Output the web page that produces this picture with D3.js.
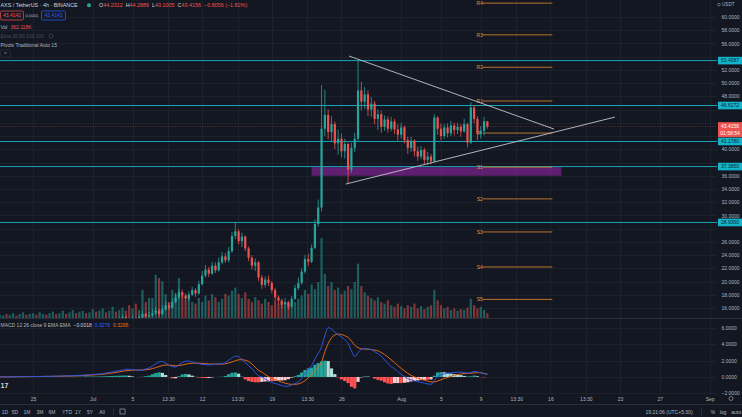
<!DOCTYPE html>
<html lang="en">
<head>
<meta charset="UTF-8">
<title>AXS / TetherUS 4h</title>
<script src="https://d3js.org/d3.v7.min.js"></script>
<style>
  html, body { margin: 0; padding: 0; background: #131722; }
  svg { display: block; font-family: "Liberation Sans", Arial, sans-serif; }
  .axis text { fill: #b2b5be; font-size: 5px; }
</style>
</head>
<body>
<div id="chart"></div>
<script>
// ---- data (days counted from Jun 20, one candle every 8 hours) ----
const firstDay = 5 / 3;
const stepDay = 1 / 3;
const firstOpen = 5.4;

const closes = [
  5.6,5.8,5.7,5.9,6.2,6.0,6.4,6.8,6.6,7.1,7.5,7.3,7.9,8.4,8.1,8.6,9.2,8.9,9.5,10.1,
  9.8,10.4,11.2,10.8,11.5,12.3,11.9,12.6,13.2,12.8,13.3,13.9,13.4,13.8,14.2,13.9,14.3,14.6,14.2,13.9,
  14.4,14.1,14.6,15.1,14.7,14.9,
  15.2,15.6,15.1,15.8,16.4,16.0,16.9,17.6,18.4,17.9,
  17.4,18.0,18.7,18.2,19.6,20.9,21.8,21.2,22.4,21.7,
  22.9,23.8,23.2,24.6,26.9,27.6,26.1,26.8,25.0,23.6,
  22.4,22.9,20.6,19.5,20.3,19.8,18.7,17.6,17.1,16.5,
  16.9,16.2,17.4,19.0,19.8,21.5,23.4,23.0,25.1,28.7,
  31.2,43.1,45.2,42.6,43.8,40.9,41.6,39.7,40.8,36.9,
  40.2,41.6,48.9,47.2,48.3,46.0,46.9,44.6,45.3,43.4,
  44.5,43.1,44.2,43.0,42.2,43.3,41.4,40.2,41.3,39.7,
  38.9,39.9,38.4,38.9,38.2,44.8,43.1,42.0,43.3,42.4,
  43.6,42.9,43.4,42.7,43.8,41.0,46.3,44.6,42.3,42.8,
  44.23,43.4156
];
const highs = [
  6.0,6.1,6.0,6.2,6.5,6.4,6.7,7.1,7.0,7.4,7.8,7.7,8.2,8.8,8.6,9.0,9.6,9.4,9.9,10.5,
  10.3,10.8,11.6,11.4,11.9,12.7,12.5,13.0,13.6,13.4,13.7,14.3,14.1,14.2,14.6,14.4,14.7,15.0,14.8,14.5,
  14.8,14.6,15.0,15.6,15.3,15.4,
  15.8,16.2,15.9,16.4,17.0,16.8,17.4,18.3,18.9,18.8,
  18.2,18.5,19.2,19.0,20.1,21.6,22.5,22.2,23.0,22.9,
  23.6,24.5,24.3,25.2,27.5,29.0,27.9,27.4,27.0,25.3,
  24.0,23.5,23.1,21.0,20.8,20.9,20.1,19.0,17.9,17.4,
  17.5,17.1,17.8,19.5,20.6,22.0,24.0,24.2,25.6,29.4,
  32.4,49.7,49.0,46.0,45.0,44.2,43.0,42.4,41.6,41.0,
  41.0,42.5,53.5,50.2,49.4,48.9,47.9,47.3,46.0,45.8,
  45.1,45.0,44.9,44.6,43.8,44.0,43.6,41.9,41.9,41.5,
  40.4,40.5,40.2,39.6,39.3,45.3,45.0,43.9,43.8,43.9,
  44.3,44.0,44.0,43.8,44.6,44.0,47.1,46.7,45.0,43.5,
  44.9,44.2889
];
const lows = [
  5.2,5.4,5.4,5.5,5.7,5.8,5.8,6.2,6.3,6.4,6.9,7.0,7.1,7.7,7.8,7.9,8.4,8.6,8.7,9.3,
  9.5,9.6,10.2,10.5,10.6,11.3,11.5,11.7,12.4,12.5,12.6,13.1,13.1,13.2,13.6,13.6,13.7,14.1,13.9,13.5,
  13.7,13.8,13.9,14.4,14.4,14.5,
  14.6,15.0,14.7,14.9,15.6,15.7,15.9,16.7,17.3,17.4,
  17.0,17.1,17.8,17.7,18.0,19.4,20.6,20.7,21.0,21.3,
  21.5,22.6,22.8,22.9,24.3,26.4,25.6,25.2,24.6,23.1,
  21.8,21.6,20.1,18.9,19.1,19.3,18.2,17.2,16.5,15.9,
  16.1,15.7,16.0,17.2,18.7,19.5,21.2,22.3,22.8,24.9,
  28.3,30.6,42.0,41.5,41.2,40.0,39.2,38.8,38.6,34.9,
  36.4,39.6,41.3,45.9,46.1,45.0,44.9,43.8,42.9,42.5,
  42.8,42.5,42.7,42.3,41.3,41.6,40.9,39.3,39.6,38.9,
  38.2,38.5,37.7,37.6,37.7,38.0,42.2,41.4,41.6,41.8,
  42.0,42.1,42.3,41.9,42.5,40.3,40.8,43.9,41.4,41.6,
  42.1,43.1005
];
const volumes = [
  4,3,5,4,6,3,5,7,4,5,6,4,7,5,4,6,8,5,6,9,5,7,10,6,8,9,6,7,11,8,
  9,12,7,9,14,8,10,13,9,16,12,18,10,35,20,25,
  25,54,50,46,30,20,35,30,50,28,
  22,30,20,18,25,20,28,22,30,26,
  20,24,30,28,34,38,30,25,32,24,
  20,26,22,18,24,20,16,22,18,20,
  15,18,14,20,24,28,35,30,42,36,
  45,100,55,40,45,35,38,30,34,40,
  36,45,68,40,32,28,25,22,26,20,
  18,22,16,14,18,15,12,16,14,18,
  12,15,11,14,16,35,22,16,12,14,
  10,12,9,11,10,13,24,16,12,14,
  10,6
];
const macdLine = [
  0.00,0.01,0.01,0.02,0.02,0.03,0.03,0.04,0.04,0.05,0.05,0.06,0.06,0.07,0.08,0.08,0.09,0.10,
  0.11,0.12,0.13,0.15,0.16,0.18,0.20,0.22,0.24,0.27,0.30,0.33,
  0.36,0.42,0.48,0.55,0.62,0.70,0.78,0.86,0.94,
  0.95,0.90,0.84,0.82,0.88,0.98,
  1.10,1.35,1.62,1.85,1.90,1.70,1.45,1.25,1.22,1.50,1.78,1.93,
  1.95,1.85,1.72,1.62,1.55,1.50,1.48,1.52,1.58,1.60,1.62,
  1.75,2.05,2.35,2.55,2.50,2.15,1.75,
  1.40,1.00,0.55,0.15,0.00,-0.25,-0.48,-0.68,
  -0.78,-0.92,-1.05,-1.15,-1.12,-0.98,-0.80,
  -0.60,-0.15,0.40,0.95,1.40,2.20,2.90,3.70,5.10,
  6.05,5.85,5.50,5.20,4.90,4.55,4.10,3.20,
  2.50,3.00,3.40,3.50,3.45,3.35,3.10,2.85,
  2.55,2.10,1.65,1.25,1.00,0.65,0.30,0.05,-0.20,
  -0.35,-0.48,-0.58,-0.66,-0.75,-0.85,-0.90,-0.45,
  0.05,0.25,0.38,0.45,0.50,0.55,0.58,
  0.60,0.55,0.48,0.55,0.68,0.62,0.50,0.40,0.3278
];
const signalLine = [
  0.00,0.00,0.01,0.01,0.02,0.02,0.03,0.03,0.04,0.04,0.05,0.05,0.06,0.06,0.07,0.07,0.08,0.09,
  0.09,0.10,0.11,0.12,0.13,0.15,0.16,0.18,0.20,0.22,0.24,0.27,
  0.30,0.34,0.38,0.43,0.49,0.55,0.62,0.69,0.76,
  0.80,0.83,0.84,0.84,0.85,0.88,
  0.93,1.02,1.14,1.28,1.40,1.46,1.46,1.42,1.38,1.40,1.47,1.56,
  1.64,1.69,1.70,1.69,1.66,1.63,1.60,1.58,1.58,1.58,1.59,
  1.62,1.71,1.84,1.99,2.10,2.12,2.05,
  1.90,1.60,1.20,0.80,0.60,0.30,0.05,-0.15,
  -0.32,-0.48,-0.62,-0.75,-0.85,-0.90,-0.90,
  -0.85,-0.70,-0.45,-0.10,0.25,0.70,1.20,1.80,3.10,
  4.10,4.80,5.15,5.25,5.20,5.05,4.85,4.40,
  3.90,3.60,3.45,3.42,3.40,3.35,3.30,3.20,
  3.00,2.75,2.45,2.10,1.75,1.40,1.05,0.75,0.45,
  0.20,0.00,-0.15,-0.28,-0.40,-0.50,-0.60,-0.60,
  -0.50,-0.35,-0.20,-0.05,0.08,0.20,0.30,
  0.37,0.42,0.44,0.46,0.50,0.53,0.52,0.45,0.3295
];

const timeTickDays = [5, 11, 15, 18.5625, 22, 25.5625, 29, 32.5625, 36, 42, 46, 50, 53.5625, 57, 60.5625, 64, 68, 73];
const timeTickLabels = ["25", "Jul", "5", "13:30", "12", "13:30", "19", "13:30", "26", "Aug", "5", "9", "13:30", "16", "13:30", "23", "27", "Sep"];
const priceTicks = d3.range(16, 61, 2);
const macdTicks = [6, 4, 2, 0, -2];

const levelPrices = [53.4087, 46.6172, 41.1780, 37.3850, 28.9360];
const pivotNames = ["R4", "R3", "R2", "R1", "P", "S1", "S2", "S3", "S4", "S5"];
const pivotPrices = [62.1, 57.3, 52.4, 47.3, 42.45, 37.3, 32.5, 27.5, 22.2, 17.3];
const pivotFrom = 50, pivotTo = 57;
const zone = { from: 33.0, to: 58.1, top: 37.3, bottom: 36.0 };
const triangleUpper = [[36.76, 54.1], [57.36, 43.06]];
const triangleLower = [[36.43, 34.74], [63.49, 44.87]];
const lastPrice = 43.4156;

// ---- layout ----
const W = 742, H = 417, plotR = 717;
const mainBottom = 318, macdTop = 319, macdBottom = 395;

const x = d3.scaleLinear().domain([5, 73]).range([33, 709.6]);
const y = d3.scaleLinear().domain([60, 16]).range([17, 308]);
const yVol = d3.scaleLinear().domain([0, 100]).range([mainBottom, 238]);
const yMacd = d3.scaleLinear().domain([6, -2]).range([328, 393.3]);

const up = "#26a69a", down = "#ef5350";

const candles = closes.map((c, i) => ({
  day: firstDay + i * stepDay,
  open: i === 0 ? firstOpen : closes[i - 1],
  close: c, high: highs[i], low: lows[i], vol: volumes[i]
}));

const svg = d3.select("#chart").append("svg").attr("width", W).attr("height", H);
svg.append("rect").attr("width", W).attr("height", H).attr("fill", "#131722");

const defs = svg.append("defs");
defs.append("clipPath").attr("id", "mainClip").append("rect")
  .attr("x", 0).attr("y", 0).attr("width", plotR).attr("height", mainBottom);
defs.append("clipPath").attr("id", "macdClip").append("rect")
  .attr("x", 0).attr("y", macdTop).attr("width", plotR).attr("height", macdBottom - macdTop);

// grid
const grid = svg.append("g").attr("stroke", "#1d212c").attr("stroke-width", 1).attr("shape-rendering", "crispEdges");
grid.selectAll(".vg").data(timeTickDays).enter().append("line")
  .attr("x1", d => Math.round(x(d)) + 0.5).attr("x2", d => Math.round(x(d)) + 0.5)
  .attr("y1", 0).attr("y2", macdBottom);
grid.selectAll(".hg").data(priceTicks).enter().append("line")
  .attr("x1", 0).attr("x2", plotR).attr("y1", d => Math.round(y(d)) + 0.5).attr("y2", d => Math.round(y(d)) + 0.5);
grid.selectAll(".mg").data(macdTicks).enter().append("line")
  .attr("x1", 0).attr("x2", plotR).attr("y1", d => Math.round(yMacd(d)) + 0.5).attr("y2", d => Math.round(yMacd(d)) + 0.5);

// separators
const sep = svg.append("g").attr("stroke", "#2a2e39").attr("shape-rendering", "crispEdges");
sep.append("line").attr("x1", 0).attr("x2", W).attr("y1", mainBottom + 0.5).attr("y2", mainBottom + 0.5);
sep.append("line").attr("x1", 0).attr("x2", W).attr("y1", 404.5).attr("y2", 404.5);

// ---- main pane ----
const main = svg.append("g").attr("clip-path", "url(#mainClip)");

// volume
main.append("g").selectAll("rect").data(candles).enter().append("rect")
  .attr("x", d => x(d.day) - 1.1).attr("width", 2.2)
  .attr("y", d => yVol(d.vol)).attr("height", d => mainBottom - yVol(d.vol))
  .attr("fill", d => d.close >= d.open ? up : down).attr("opacity", 0.5);

// purple zone
main.append("rect")
  .attr("x", x(zone.from)).attr("width", x(zone.to) - x(zone.from))
  .attr("y", y(zone.top)).attr("height", y(zone.bottom) - y(zone.top))
  .attr("fill", "#9c27b0").attr("opacity", 0.55);

// support / resistance levels
main.selectAll(".lvl").data(levelPrices).enter().append("line")
  .attr("x1", 0).attr("x2", plotR)
  .attr("y1", d => y(d)).attr("y2", d => y(d))
  .attr("stroke", "#1aa3b8").attr("stroke-width", 1);

// current price line
main.append("line").attr("x1", 0).attr("x2", plotR)
  .attr("y1", y(lastPrice)).attr("y2", y(lastPrice))
  .attr("stroke", "#ef5350").attr("stroke-width", 0.6).attr("stroke-dasharray", "1,1.5").attr("opacity", 0.7);

// pivots
const piv = main.append("g");
piv.selectAll("line").data(pivotPrices).enter().append("line")
  .attr("x1", x(pivotFrom) + 2).attr("x2", x(pivotTo) + 2)
  .attr("y1", d => y(d)).attr("y2", d => y(d))
  .attr("stroke", "#d7852f").attr("stroke-width", 1).attr("opacity", 0.85);
piv.selectAll("text").data(pivotPrices).enter().append("text")
  .attr("x", x(pivotFrom) - 1).attr("y", d => y(d) + 1.8)
  .attr("text-anchor", "middle").attr("font-size", 5).attr("fill", "#e8923a")
  .text((d, i) => pivotNames[i]);

// candles
const cg = main.append("g");
cg.selectAll("line").data(candles).enter().append("line")
  .attr("x1", d => x(d.day)).attr("x2", d => x(d.day))
  .attr("y1", d => y(d.high)).attr("y2", d => y(d.low))
  .attr("stroke", d => d.close >= d.open ? up : down).attr("stroke-width", 0.8);
cg.selectAll("rect").data(candles).enter().append("rect")
  .attr("x", d => x(d.day) - 1.1).attr("width", 2.2)
  .attr("y", d => y(Math.max(d.open, d.close)))
  .attr("height", d => Math.max(0.8, Math.abs(y(d.open) - y(d.close))))
  .attr("fill", d => d.close >= d.open ? up : down);

// triangle
const triLine = d3.line().x(d => x(d[0])).y(d => y(d[1]));
[triangleUpper, triangleLower].forEach(t => {
  main.append("path").attr("d", triLine(t)).attr("fill", "none")
    .attr("stroke", "#c3c5cc").attr("stroke-width", 0.9);
});

// ---- MACD pane ----
const hist = macdLine.map((m, i) => m - signalLine[i]);
const mp = svg.append("g").attr("clip-path", "url(#macdClip)");
mp.append("g").selectAll("rect").data(hist).enter().append("rect")
  .attr("x", (d, i) => x(candles[i].day) - 1.6).attr("width", 3.2)
  .attr("y", d => Math.min(yMacd(d), yMacd(0)))
  .attr("height", d => Math.abs(yMacd(d) - yMacd(0)))
  .attr("fill", (d, i) => {
    const prev = i > 0 ? hist[i - 1] : d;
    if (d >= 0) return d >= prev ? "#26a69a" : "#b2dfdb";
    return d <= prev ? "#ff5252" : "#ffcdd2";
  });
const mLine = d3.line().x((d, i) => x(candles[i].day)).y(d => yMacd(d)).curve(d3.curveMonotoneX);
mp.append("path").attr("d", mLine(signalLine)).attr("fill", "none").attr("stroke", "#e2671b").attr("stroke-width", 1);
mp.append("path").attr("d", mLine(macdLine)).attr("fill", "none").attr("stroke", "#2f55e0").attr("stroke-width", 1);

// ---- axes ----
// price labels hidden where a level box covers them (as on the reference)
const boxPrices = levelPrices.concat([lastPrice]);
const visiblePriceTicks = priceTicks.filter(p => boxPrices.every(b => Math.abs(y(p) - y(b)) > 6.5) &&
  !(y(p) > y(lastPrice) - 5 && y(p) < y(lastPrice) + 12));
const pAxis = svg.append("g").attr("class", "axis").attr("transform", `translate(${plotR + 3},0)`)
  .call(d3.axisRight(y).tickValues(visiblePriceTicks).tickFormat(d3.format(".4f")).tickSize(0).tickPadding(1.5));
const mAxis = svg.append("g").attr("class", "axis").attr("transform", `translate(${plotR + 3},0)`)
  .call(d3.axisRight(yMacd).tickValues(macdTicks).tickFormat(d3.format(".4f")).tickSize(0).tickPadding(1.5));
const tAxis = svg.append("g").attr("class", "axis").attr("transform", `translate(0,${macdBottom})`)
  .call(d3.axisBottom(x).tickValues(timeTickDays).tickFormat((d, i) => timeTickLabels[i]).tickSize(0));
[pAxis, mAxis, tAxis].forEach(a => { a.select(".domain").remove(); a.selectAll("text").attr("fill", "#b2b5be"); });
tAxis.selectAll("text").attr("dy", "0.55em");

// level labels on the price scale
const lbl = svg.append("g");
levelPrices.forEach(v => {
  lbl.append("rect").attr("x", plotR + 1).attr("y", y(v) - 3.8).attr("width", 24).attr("height", 7.6).attr("fill", "#14b3cc");
  lbl.append("text").attr("x", plotR + 13).attr("y", y(v) + 1.8).attr("text-anchor", "middle")
    .attr("font-size", 5).attr("fill", "#0d1f26").text(v.toFixed(4));
});
lbl.append("rect").attr("x", plotR + 1).attr("y", y(lastPrice) - 4.5).attr("width", 24).attr("height", 15).attr("fill", "#ef5350");
lbl.append("text").attr("x", plotR + 13).attr("y", y(lastPrice) + 1.8).attr("text-anchor", "middle")
  .attr("font-size", 5).attr("fill", "#fff").text(lastPrice.toFixed(4));
lbl.append("text").attr("x", plotR + 13).attr("y", y(lastPrice) + 8.3).attr("text-anchor", "middle")
  .attr("font-size", 5).attr("fill", "#fff").text("01:58:54");

// ---- header / legends ----
const hd = svg.append("g").attr("font-size", 5);
hd.append("text").attr("x", 0.5).attr("y", 7).attr("fill", "#d1d4dc").attr("font-size", 5.4)
  .text("AXS / TetherUS · 4h · BINANCE");
hd.append("circle").attr("cx", 89).attr("cy", 5.3).attr("r", 2).attr("fill", "#26a69a");
const ohlc = hd.append("text").attr("x", 99).attr("y", 7).attr("font-size", 5.4);
[["O", "44.2312"], ["H", "44.2889"], ["L", "43.1005"], ["C", "43.4156"]].forEach(([k, v], i) => {
  ohlc.append("tspan").attr("fill", "#d1d4dc").attr("dx", i ? 3 : 0).text(k);
  ohlc.append("tspan").attr("fill", "#ef5350").text(v);
});
ohlc.append("tspan").attr("fill", "#ef5350").attr("dx", 3).text("−0.8056 (−1.82%)");

hd.append("rect").attr("x", 0.5).attr("y", 11).attr("width", 23).attr("height", 9).attr("rx", 1.5)
  .attr("fill", "none").attr("stroke", "#ef5350").attr("stroke-width", 0.7);
hd.append("text").attr("x", 12).attr("y", 17.3).attr("text-anchor", "middle").attr("fill", "#ef5350").text("43.4142");
hd.append("text").attr("x", 32).attr("y", 17.3).attr("text-anchor", "middle").attr("fill", "#b2b5be").attr("font-size", 4.2).text("0.0001");
hd.append("rect").attr("x", 41.5).attr("y", 11).attr("width", 24).attr("height", 9).attr("rx", 1.5)
  .attr("fill", "none").attr("stroke", "#2962ff").attr("stroke-width", 0.7);
hd.append("text").attr("x", 53.5).attr("y", 17.3).attr("text-anchor", "middle").attr("fill", "#2962ff").text("43.4143");

const vt = hd.append("text").attr("x", 0.5).attr("y", 28.5);
vt.append("tspan").attr("fill", "#b2b5be").text("Vol");
vt.append("tspan").attr("fill", "#ef5350").attr("dx", 3).text("362.118K");
hd.append("text").attr("x", 0.5).attr("y", 37.5).attr("fill", "#4c505b").text("Ema 20 50 100 200");
hd.append("circle").attr("cx", 51).attr("cy", 35.8).attr("r", 2).attr("fill", "none").attr("stroke", "#4c505b").attr("stroke-width", 0.6);
hd.append("text").attr("x", 0.5).attr("y", 46.5).attr("fill", "#b2b5be").text("Pivots Traditional Auto 15");
hd.append("rect").attr("x", 0.5).attr("y", 50).attr("width", 10).attr("height", 7).attr("rx", 1)
  .attr("fill", "none").attr("stroke", "#2a2e39").attr("stroke-width", 0.7);
hd.append("text").attr("x", 5.5).attr("y", 56).attr("text-anchor", "middle").attr("fill", "#b2b5be").text("^");

svg.append("text").attr("x", 722).attr("y", 6).attr("font-size", 4.6).attr("fill", "#b2b5be").text("USDT");
svg.append("circle").attr("cx", 719).attr("cy", 4.6).attr("r", 1.3).attr("fill", "none").attr("stroke", "#b2b5be").attr("stroke-width", 0.5);

const ml = svg.append("text").attr("x", 0.5).attr("y", 326.5).attr("font-size", 5);
ml.append("tspan").attr("fill", "#b2b5be").text("MACD 12 26 close 9 EMA EMA");
ml.append("tspan").attr("fill", "#d1d4dc").attr("dx", 3).text("−0.0018");
ml.append("tspan").attr("fill", "#2962ff").attr("dx", 3).text("0.3278");
ml.append("tspan").attr("fill", "#ff6d00").attr("dx", 3).text("0.3295");

svg.append("text").attr("x", 0.5).attr("y", 387.5).attr("font-size", 7).attr("font-weight", "bold").attr("fill", "#d1d4dc").text("17");

// ---- bottom toolbar ----
const ranges = ["1D", "5D", "1M", "3M", "6M", "YTD", "1Y", "5Y", "All"];
const rangeX = [5, 15, 27, 40, 52, 67, 78, 90, 102];
const tb = svg.append("g").attr("font-size", 5).attr("fill", "#b2b5be").attr("text-anchor", "middle");
ranges.forEach((r, i) => tb.append("text").attr("x", rangeX[i]).attr("y", 413.5).text(r));
svg.append("line").attr("x1", 113.5).attr("x2", 113.5).attr("y1", 408).attr("y2", 415).attr("stroke", "#2a2e39");
svg.append("rect").attr("x", 120).attr("y", 409).attr("width", 5).attr("height", 5).attr("fill", "none").attr("stroke", "#b2b5be").attr("stroke-width", 0.6);
tb.append("text").attr("x", 669).attr("y", 413.5).text("19:21:06 (UTC+5:30)");
svg.append("line").attr("x1", 701.5).attr("x2", 701.5).attr("y1", 408).attr("y2", 415).attr("stroke", "#2a2e39");
tb.append("text").attr("x", 713).attr("y", 413.5).text("%");
tb.append("text").attr("x", 723).attr("y", 413.5).text("log");
tb.append("text").attr("x", 741).attr("y", 413.5).attr("text-anchor", "end").text("auto");
svg.append("circle").attr("cx", 731).attr("cy", 398.5).attr("r", 2).attr("fill", "none").attr("stroke", "#b2b5be").attr("stroke-width", 0.6);
</script>
</body>
</html>
